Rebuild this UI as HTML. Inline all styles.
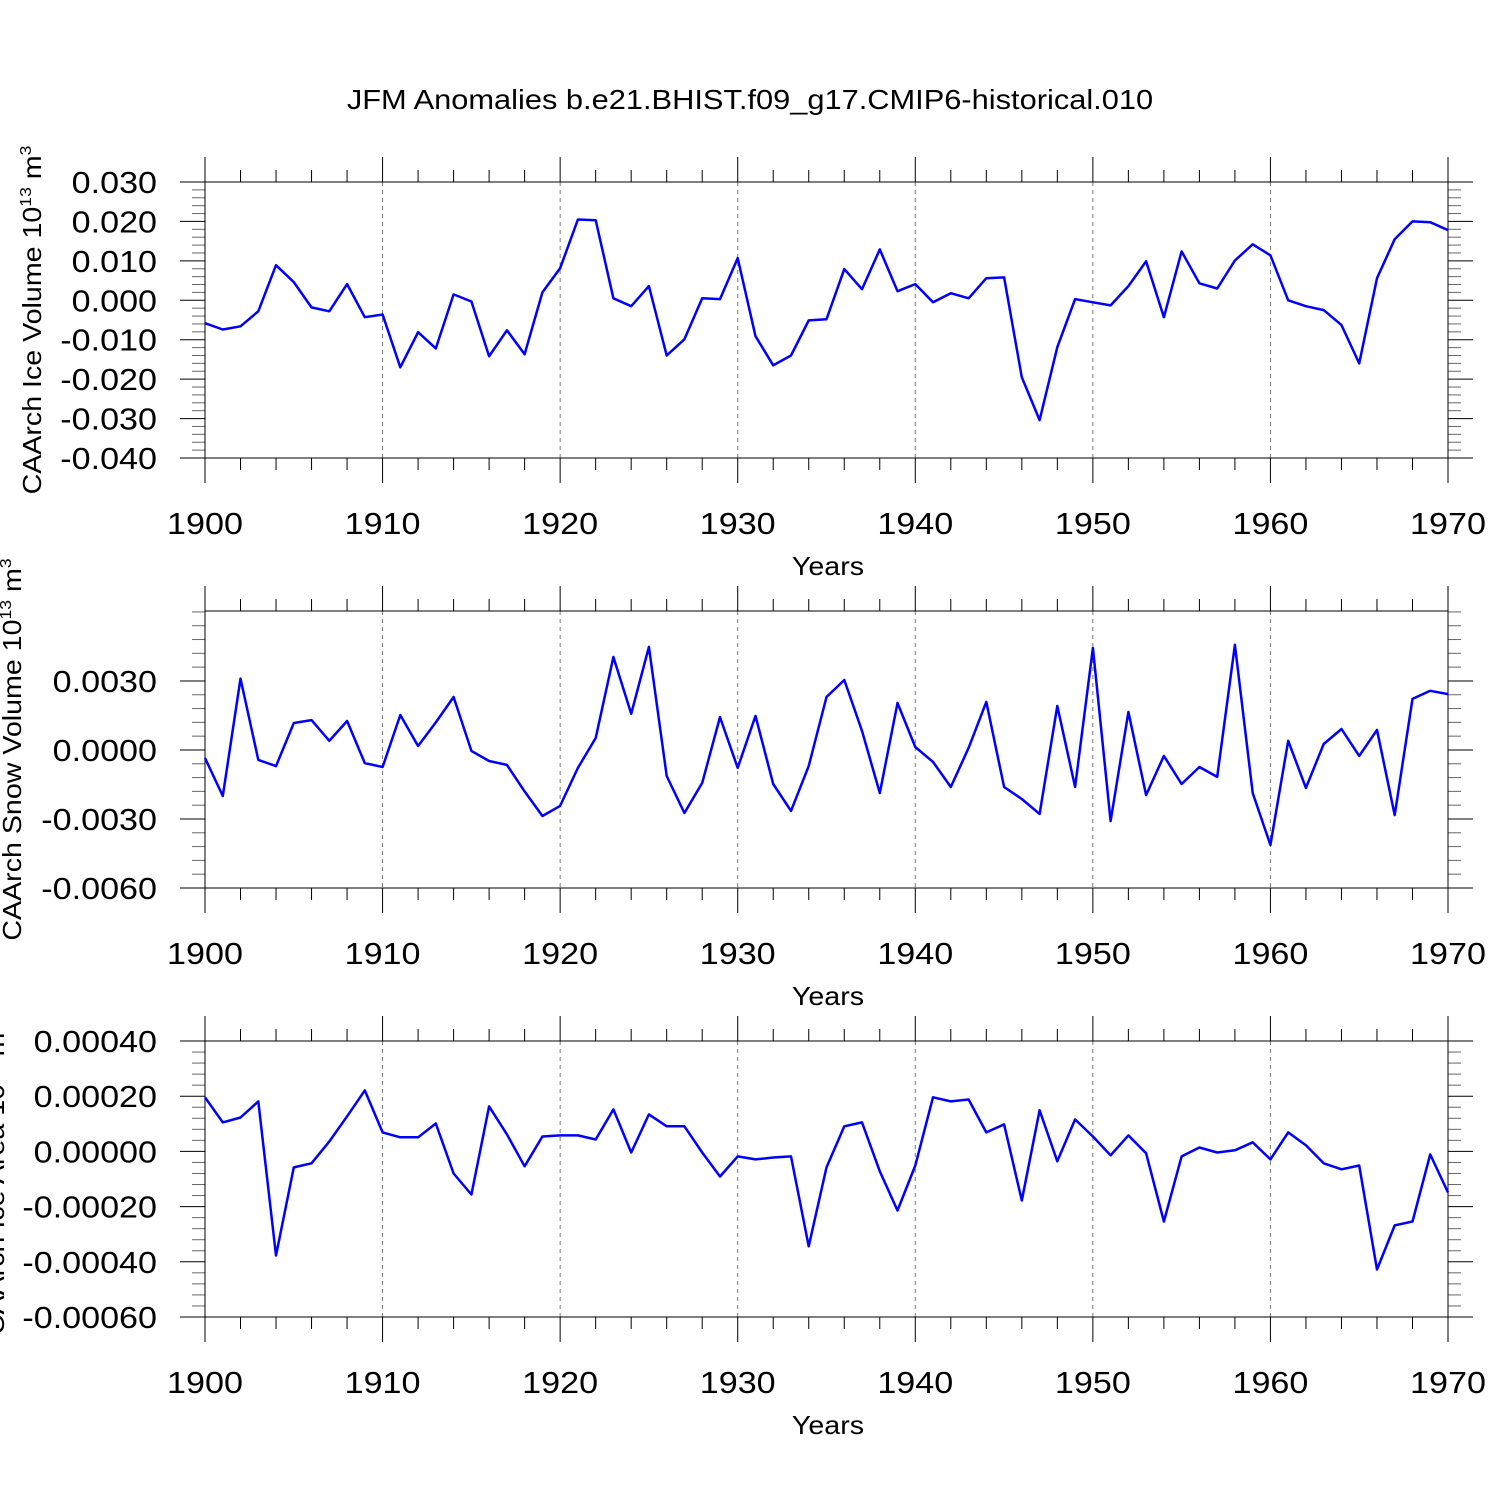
<!DOCTYPE html>
<html><head><meta charset="utf-8"><style>
html,body{margin:0;padding:0;background:#fff}
svg{display:block;font-family:"Liberation Sans",sans-serif}
</style></head><body>
<svg id="chart" width="1500" height="1500" viewBox="0 0 1500 1500" xmlns="http://www.w3.org/2000/svg">
<text class="wide" x="750" y="109" font-size="28" text-anchor="middle">JFM Anomalies b.e21.BHIST.f09_g17.CMIP6-historical.010</text>
</svg>
<script>
const years = [];
for (let y = 1900; y <= 1970; y++) years.push(y);
const xTickLabels = ["1900","1910","1920","1930","1940","1950","1960","1970"];
const iceVolume = [-0.0058,-0.0074,-0.0066,-0.0028,0.0089,0.0046,-0.0018,-0.0028,0.0041,-0.0043,
-0.0036,-0.017,-0.0081,-0.0122,0.0015,-0.0003,-0.0142,-0.0076,-0.0137,0.002,
0.0081,0.0205,0.0203,0.0005,-0.0015,0.0036,-0.014,-0.0099,0.0005,0.0003,
0.0107,-0.0091,-0.0165,-0.014,-0.0051,-0.0048,0.0079,0.0028,0.0129,0.0023,
0.0041,-0.0005,0.0018,0.0005,0.0056,0.0058,-0.0195,-0.0304,-0.0119,0.0003,
-0.0005,-0.0013,0.0036,0.0099,-0.0043,0.0124,0.0043,0.003,0.0101,0.0142,
0.0114,0,-0.0015,-0.0025,-0.0063,-0.016,0.0056,0.0155,0.02,0.0198,0.0178];
const snowVolume = [-0.00035,-0.002,0.0031,-0.00043,-0.0007,0.00117,0.0013,0.0004,0.00126,-0.00057,
-0.00074,0.00152,0.00017,0.0012,0.0023,-0.00004,-0.00048,-0.00065,-0.0018,-0.00287,
-0.00243,-0.00078,0.00052,0.00404,0.00157,0.00448,-0.00113,-0.00274,-0.00143,0.00143,
-0.00078,0.00148,-0.00148,-0.00265,-0.0007,0.0023,0.00304,0.00083,-0.00187,0.00204,
0.00013,-0.00052,-0.00161,0.00009,0.00209,-0.00161,-0.00213,-0.00278,0.00191,-0.00161,
0.00443,-0.00309,0.00165,-0.00196,-0.00026,-0.00148,-0.00074,-0.00117,0.00457,-0.00187,
-0.00413,0.0004,-0.00165,0.00026,0.00091,-0.00026,0.00087,-0.00283,0.00222,0.00257,0.00243];
const iceArea = [0.000196,0.000105,0.000123,0.000181,-0.000377,-0.000058,-0.000043,0.000036,0.000127,0.000221,
0.000069,0.000051,0.000051,0.000101,-0.00008,-0.000156,0.000163,0.000062,-0.000054,0.000054,
0.000058,0.000058,0.000043,0.000152,-0.000004,0.000134,0.000091,0.000091,-0.000004,-0.000091,
-0.000018,-0.000029,-0.000022,-0.000018,-0.000344,-0.000058,0.000091,0.000105,-0.000072,-0.000214,
-0.000051,0.000196,0.000181,0.000188,0.000069,0.000098,-0.000178,0.000149,-0.000036,0.000116,
0.000054,-0.000014,0.000058,-0.000007,-0.000254,-0.000018,0.000014,-0.000004,0.000004,0.000033,
-0.000029,0.000069,0.000022,-0.000043,-0.000065,-0.000051,-0.000428,-0.000268,-0.000254,-0.000011,-0.000149];
const iceTicks = [0.03,0.02,0.01,0,-0.01,-0.02,-0.03,-0.04];
const iceTickLabels = ["0.030","0.020","0.010","0.000","-0.010","-0.020","-0.030","-0.040"];
const snowTicks = [0.003,0,-0.003,-0.006];
const snowTickLabels = ["0.0030","0.0000","-0.0030","-0.0060"];
const areaTicks = [0.0004,0.0002,0,-0.0002,-0.0004,-0.0006];
const areaTickLabels = ["0.00040","0.00020","0.00000","-0.00020","-0.00040","-0.00060"];

const NS = "http://www.w3.org/2000/svg";
const svg = document.getElementById("chart");
function mk(tag, attrs, parent){const e=document.createElementNS(NS,tag);for(const k in attrs)e.setAttribute(k,attrs[k]);(parent||svg).appendChild(e);return e;}
const X0=205,X1=1448;
const xs = v => X0 + (v-1900)/70*(X1-X0);

function panel(cfg){
  const g = mk("g",{});
  
  
  const ys = v => cfg.top + (cfg.ymax - v)/(cfg.ymax-cfg.ymin)*(cfg.bot-cfg.top);
  for (let yr=1910; yr<1970; yr+=10){
    const l=mk("line",{x1:xs(yr),x2:xs(yr),y1:cfg.top,y2:cfg.bot,stroke:"#777","stroke-width":1,"stroke-dasharray":"4,4"},g);
    
    
  }
  for (let yr=1900; yr<=1970; yr+=2){
    const major = yr%10===0, len = major?25:12, x=xs(yr);
    mk("line",{x1:x,x2:x,y1:cfg.top-len,y2:cfg.top,stroke:"#000","stroke-width":1},g);
    mk("line",{x1:x,x2:x,y1:cfg.bot,y2:cfg.bot+len,stroke:"#000","stroke-width":1},g);
  }
  const step = cfg.ticks[0]-cfg.ticks[1], mstep = step/5;
  for (let v=cfg.ymin; v<=cfg.ymax+1e-12; v+=mstep){
    const y=ys(v);
    const isMaj = cfg.ticks.some(t=>Math.abs(t-v)<mstep*0.1);
    const len = isMaj?25:13;
    mk("line",{x1:X0-len,x2:X0,y1:y,y2:y,stroke:isMaj?"#000":"#666","stroke-width":1},g);
    mk("line",{x1:X1,x2:X1+len,y1:y,y2:y,stroke:isMaj?"#000":"#666","stroke-width":1},g);
  }
  cfg.ticks.forEach((t,i)=>{
    const tx=mk("text",{x:157,y:ys(t)+11,"font-size":31,"text-anchor":"end",class:"wide"},g);
    tx.textContent=cfg.labels[i];
    
    
  });
  xTickLabels.forEach(l=>{
    const tx=mk("text",{x:xs(+l),y:cfg.bot+76,"font-size":31,"text-anchor":"middle",class:"wide"},g);
    tx.textContent=l;
    
    
  });
  const xt=mk("text",{x:828,y:cfg.bot+117,"font-size":26,"text-anchor":"middle",class:"wide"},g);
  xt.textContent="Years";
  
  
  const b=mk("rect",{x:X0,y:cfg.top,width:X1-X0,height:cfg.bot-cfg.top,fill:"none",stroke:"#000","stroke-width":1},g);
  
  
  const pts = cfg.data.map((v,i)=>xs(years[i]).toFixed(1)+","+ys(v).toFixed(1)).join(" ");
  const pl=mk("polyline",{points:pts,fill:"none",stroke:"#0000ff","stroke-width":2.5,"stroke-linejoin":"round"},g);
  
  
  const cy=(cfg.top+cfg.bot)/2;
  const yt=mk("text",{x:cfg.titleX,y:cy,"font-size":26,"text-anchor":"middle",class:"wide",transform:`rotate(-90 ${cfg.titleX} ${cy})`},g);
  
  
  yt.appendChild(document.createTextNode(cfg.title+" 10"));
  const s1=mk("tspan",{dy:-10,"font-size":16},yt); s1.textContent="13";
  const s2=mk("tspan",{dy:10},yt); s2.textContent=" m";
  const s3=mk("tspan",{dy:-10,"font-size":16},yt); s3.textContent=cfg.pow;
}
panel({name:"ice-volume-panel",top:182,bot:458,ymin:-0.04,ymax:0.03,ticks:iceTicks,labels:iceTickLabels,data:iceVolume,title:"CAArch Ice Volume",pow:"3",titleX:41});
panel({name:"snow-volume-panel",top:611,bot:888,ymin:-0.006,ymax:0.00604,ticks:snowTicks,labels:snowTickLabels,data:snowVolume,title:"CAArch Snow Volume",pow:"3",titleX:21});
panel({name:"ice-area-panel",top:1041,bot:1317,ymin:-0.0006,ymax:0.0004,ticks:areaTicks,labels:areaTickLabels,data:iceArea,title:"CAArch Ice Area",pow:"2",titleX:4});
// widen glyphs to match reference (Helvetica-like) proportions
document.querySelectorAll("text.wide").forEach(t=>{
  const len=t.getComputedTextLength();
  t.setAttribute("textLength",(len*1.1).toFixed(1));
  t.setAttribute("lengthAdjust","spacingAndGlyphs");
});
</script>
</body></html>
